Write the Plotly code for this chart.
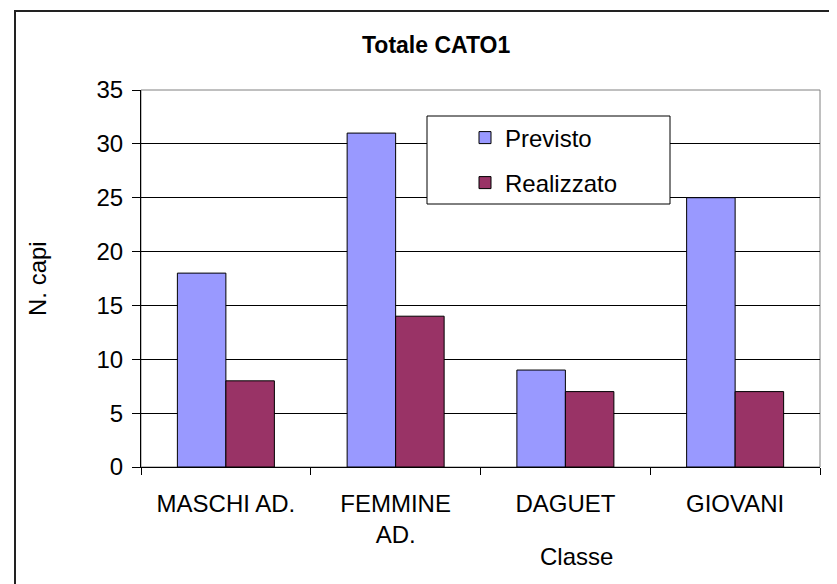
import plotly.graph_objects as go

# --- dati -------------------------------------------------------------
categorie = ["MASCHI AD.", "FEMMINE<br>AD.", "DAGUET", "GIOVANI"]
previsto = [18, 31, 9, 25]
realizzato = [8, 14, 7, 7]
y_ticks = [0, 5, 10, 15, 20, 25, 30, 35]

OFF = 8  # margine del body della pagina
W, H = 837, 584
L, R, T, B = 141 - OFF, 820 - OFF, 90 - OFF, 467 - OFF  # area del grafico

FONT = "Arial, 'Liberation Sans', sans-serif"


def px_x(x):
    """coordinata x sullo schermo -> frazione paper"""
    return (x - OFF - L) / (R - L)


def px_y(y):
    return (B - (y - OFF)) / (B - T)


fig = go.Figure()
fig.add_trace(go.Bar(
    x=categorie, y=previsto, name="Previsto", legend="legend",
    marker=dict(color="#9999FF", line=dict(color="black", width=1)),
))
fig.add_trace(go.Bar(
    x=categorie, y=realizzato, name="Realizzato", legend="legend2",
    marker=dict(color="#993366", line=dict(color="black", width=1)),
))

leg = dict(xanchor="left", yanchor="middle", bgcolor="rgba(0,0,0,0)",
           borderwidth=0, font=dict(size=24, color="black", family=FONT))

fig.update_layout(
    width=W, height=H,
    margin=dict(l=L, r=W - R, t=T, b=H - B, pad=0),
    paper_bgcolor="white", plot_bgcolor="white",
    font=dict(family=FONT, size=24, color="black"),
    barmode="group", bargap=1.5 / 3.5, bargroupgap=0,
    showlegend=True,
    legend=dict(leg, x=px_x(465), y=px_y(138)),
    legend2=dict(leg, x=px_x(465), y=px_y(183)),
    shapes=[
        # bordo esterno del grafico
        dict(type="rect", xref="paper", yref="paper",
             x0=px_x(15), x1=px_x(900), y0=px_y(650), y1=px_y(11),
             line=dict(color="#222222", width=2), layer="below"),
        # bordo area del tracciato
        dict(type="rect", xref="paper", yref="paper", x0=0, x1=1, y0=0, y1=1,
             line=dict(color="#808080", width=1), layer="below"),
        # riquadro legenda
        dict(type="rect", xref="paper", yref="paper",
             x0=px_x(427), x1=px_x(670), y0=px_y(204), y1=px_y(116),
             fillcolor="white", line=dict(color="black", width=1), layer="above"),
    ],
    annotations=[
        dict(text="<b>Totale CATO1</b>", xref="paper", yref="paper",
             x=px_x(436), y=px_y(45), xanchor="center", yanchor="middle",
             showarrow=False, font=dict(size=23)),
        dict(text="N. capi", xref="paper", yref="paper", textangle=-90,
             x=px_x(37), y=px_y(278), xanchor="center", yanchor="middle",
             showarrow=False, font=dict(size=24)),
        dict(text="Classe", xref="paper", yref="paper",
             x=px_x(576), y=px_y(556), xanchor="center", yanchor="middle",
             showarrow=False, font=dict(size=24)),
    ],
)

fig.update_xaxes(
    showline=True, linecolor="black", linewidth=1,
    ticks="outside", ticklen=7, tickcolor="black", tickson="boundaries",
    showgrid=False, tickfont=dict(size=24), ticklabelstandoff=15,
)
fig.update_yaxes(
    range=[0, 35], tickvals=y_ticks, showgrid=True, gridcolor="black",
    gridwidth=1, showline=True, linecolor="black", linewidth=1,
    ticks="outside", ticklen=8, tickcolor="black", zeroline=False,
    tickfont=dict(size=24), ticklabelstandoff=4,
)

fig.write_html("out.html")
